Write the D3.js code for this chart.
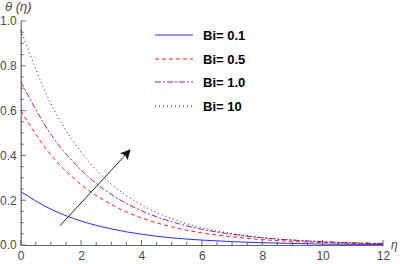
<!DOCTYPE html>
<html>
<head>
<meta charset="utf-8">
<script src="https://cdn.jsdelivr.net/npm/d3@7"></script>
<style>
html,body{margin:0;padding:0;background:#fff;}
svg{display:block;}
text{font-family:"Liberation Sans",Arial,sans-serif;}
</style>
</head>
<body>
<svg id="chart" width="400" height="264"></svg>
<script>
// Data
const eta = [0,1,2,3,4,5,6,7,8,9,10,11,12];
const bi01 = [0.238,0.160,0.107,0.072,0.048,0.032,0.022,0.015,0.010,0.007,0.004,0.003,0.002];
const bi05 = [0.600,0.402,0.270,0.181,0.121,0.081,0.054,0.037,0.024,0.016,0.011,0.007,0.005];
const bi10 = [0.730,0.494,0.335,0.226,0.153,0.104,0.070,0.048,0.032,0.022,0.015,0.010,0.007];
const bi100 = [0.960,0.631,0.415,0.272,0.179,0.118,0.077,0.051,0.033,0.022,0.014,0.009,0.006];
const seriesNames = ["Bi= 0.1","Bi= 0.5","Bi= 1.0","Bi= 10"];
const xTicks = [0,2,4,6,8,10,12];
const yTicks = [0.0,0.2,0.4,0.6,0.8,1.0];
const arrowFrom = [1.3,0.086];
const arrowTo = [3.62,0.424];

const svg = d3.select("#chart");
const x = d3.scaleLinear().domain([0,12]).range([20.7,383]);
const y = d3.scaleLinear().domain([0,1]).range([245,21]);

const axisColor = "#666";
const labelColor = "#4a4a4a";

// minor ticks
const g = svg.append("g");
d3.range(0,12.01,0.5).forEach(v=>{
  const major = Math.abs(v/2-Math.round(v/2))<1e-6;
  g.append("line").attr("x1",x(v)).attr("x2",x(v)).attr("y1",245).attr("y2",245-(major?5:3))
    .attr("stroke",axisColor).attr("stroke-width",1);
});
d3.range(0,1.001,0.05).forEach(v=>{
  const major = Math.abs(v/0.2-Math.round(v/0.2))<1e-6;
  g.append("line").attr("y1",y(v)).attr("y2",y(v)).attr("x1",20.7).attr("x2",20.7+(major?5:3))
    .attr("stroke",axisColor).attr("stroke-width",1);
});
// axis lines
const xAxis = d3.axisBottom(x).tickValues(xTicks).tickFormat(d3.format("d")).tickSize(0).tickPadding(6);
const yAxis = d3.axisLeft(y).tickValues(yTicks).tickFormat(d3.format(".1f")).tickSize(0).tickPadding(4);
const gx = svg.append("g").attr("transform","translate(0,245)").call(xAxis);
const gy = svg.append("g").attr("transform","translate(20.7,0)").call(yAxis);
[gx,gy].forEach(a=>{
  a.select(".domain").attr("stroke",axisColor).attr("stroke-width",1.2);
  a.selectAll("text").attr("fill",labelColor).style("font-size","12px").style("font-family","'Liberation Sans',Arial,sans-serif");
});

// axis labels
svg.append("text").attr("x",391).attr("y",249).attr("fill",labelColor)
  .style("font-size","12px").style("font-style","italic").text("η");
svg.append("text").attr("x",5).attr("y",11).attr("fill",labelColor)
  .style("font-size","13px").style("font-style","italic").text("θ (η)");

// curves
const line = d3.line().x((d,i)=>x(eta[i])).y(d=>y(d)).curve(d3.curveMonotoneX);
const styles = [
  {data:bi01, color:"#2b2bff", dash:null, w:1},
  {data:bi05, color:"#ff2020", dash:"4,3", w:1},
  {data:bi10, color:"#9a1fa8", dash:"6,2,2,2", w:1},
  {data:bi100, color:"#222", dash:"1,3", w:1}
];
styles.forEach(s=>{
  svg.append("path").datum(s.data).attr("d",line).attr("fill","none")
    .attr("stroke",s.color).attr("stroke-width",s.w)
    .attr("stroke-dasharray",s.dash);
});

// arrow
svg.append("defs").append("marker").attr("id","ah").attr("viewBox","0 0 10 10")
  .attr("refX",9).attr("refY",5).attr("markerWidth",10).attr("markerHeight",10)
  .attr("markerUnits","userSpaceOnUse").attr("orient","auto")
  .append("path").attr("d","M0,0L10,5L0,10L2,5Z").attr("fill","#111");
svg.append("line").attr("x1",x(arrowFrom[0])).attr("y1",y(arrowFrom[1]))
  .attr("x2",x(arrowTo[0])).attr("y2",y(arrowTo[1]))
  .attr("stroke","#222").attr("stroke-width",1).attr("marker-end","url(#ah)");

// legend
const ly = [35,59,82,106];
seriesNames.forEach((n,i)=>{
  const s = styles[i];
  svg.append("line").attr("x1",155).attr("x2",193).attr("y1",ly[i]).attr("y2",ly[i])
    .attr("stroke",s.color).attr("stroke-width",1).attr("stroke-dasharray",s.dash);
  svg.append("text").attr("x",203).attr("y",ly[i]+4.5).attr("fill","#000")
    .style("font-size","13px").style("font-weight","bold").text(n);
});
</script>
</body>
</html>
